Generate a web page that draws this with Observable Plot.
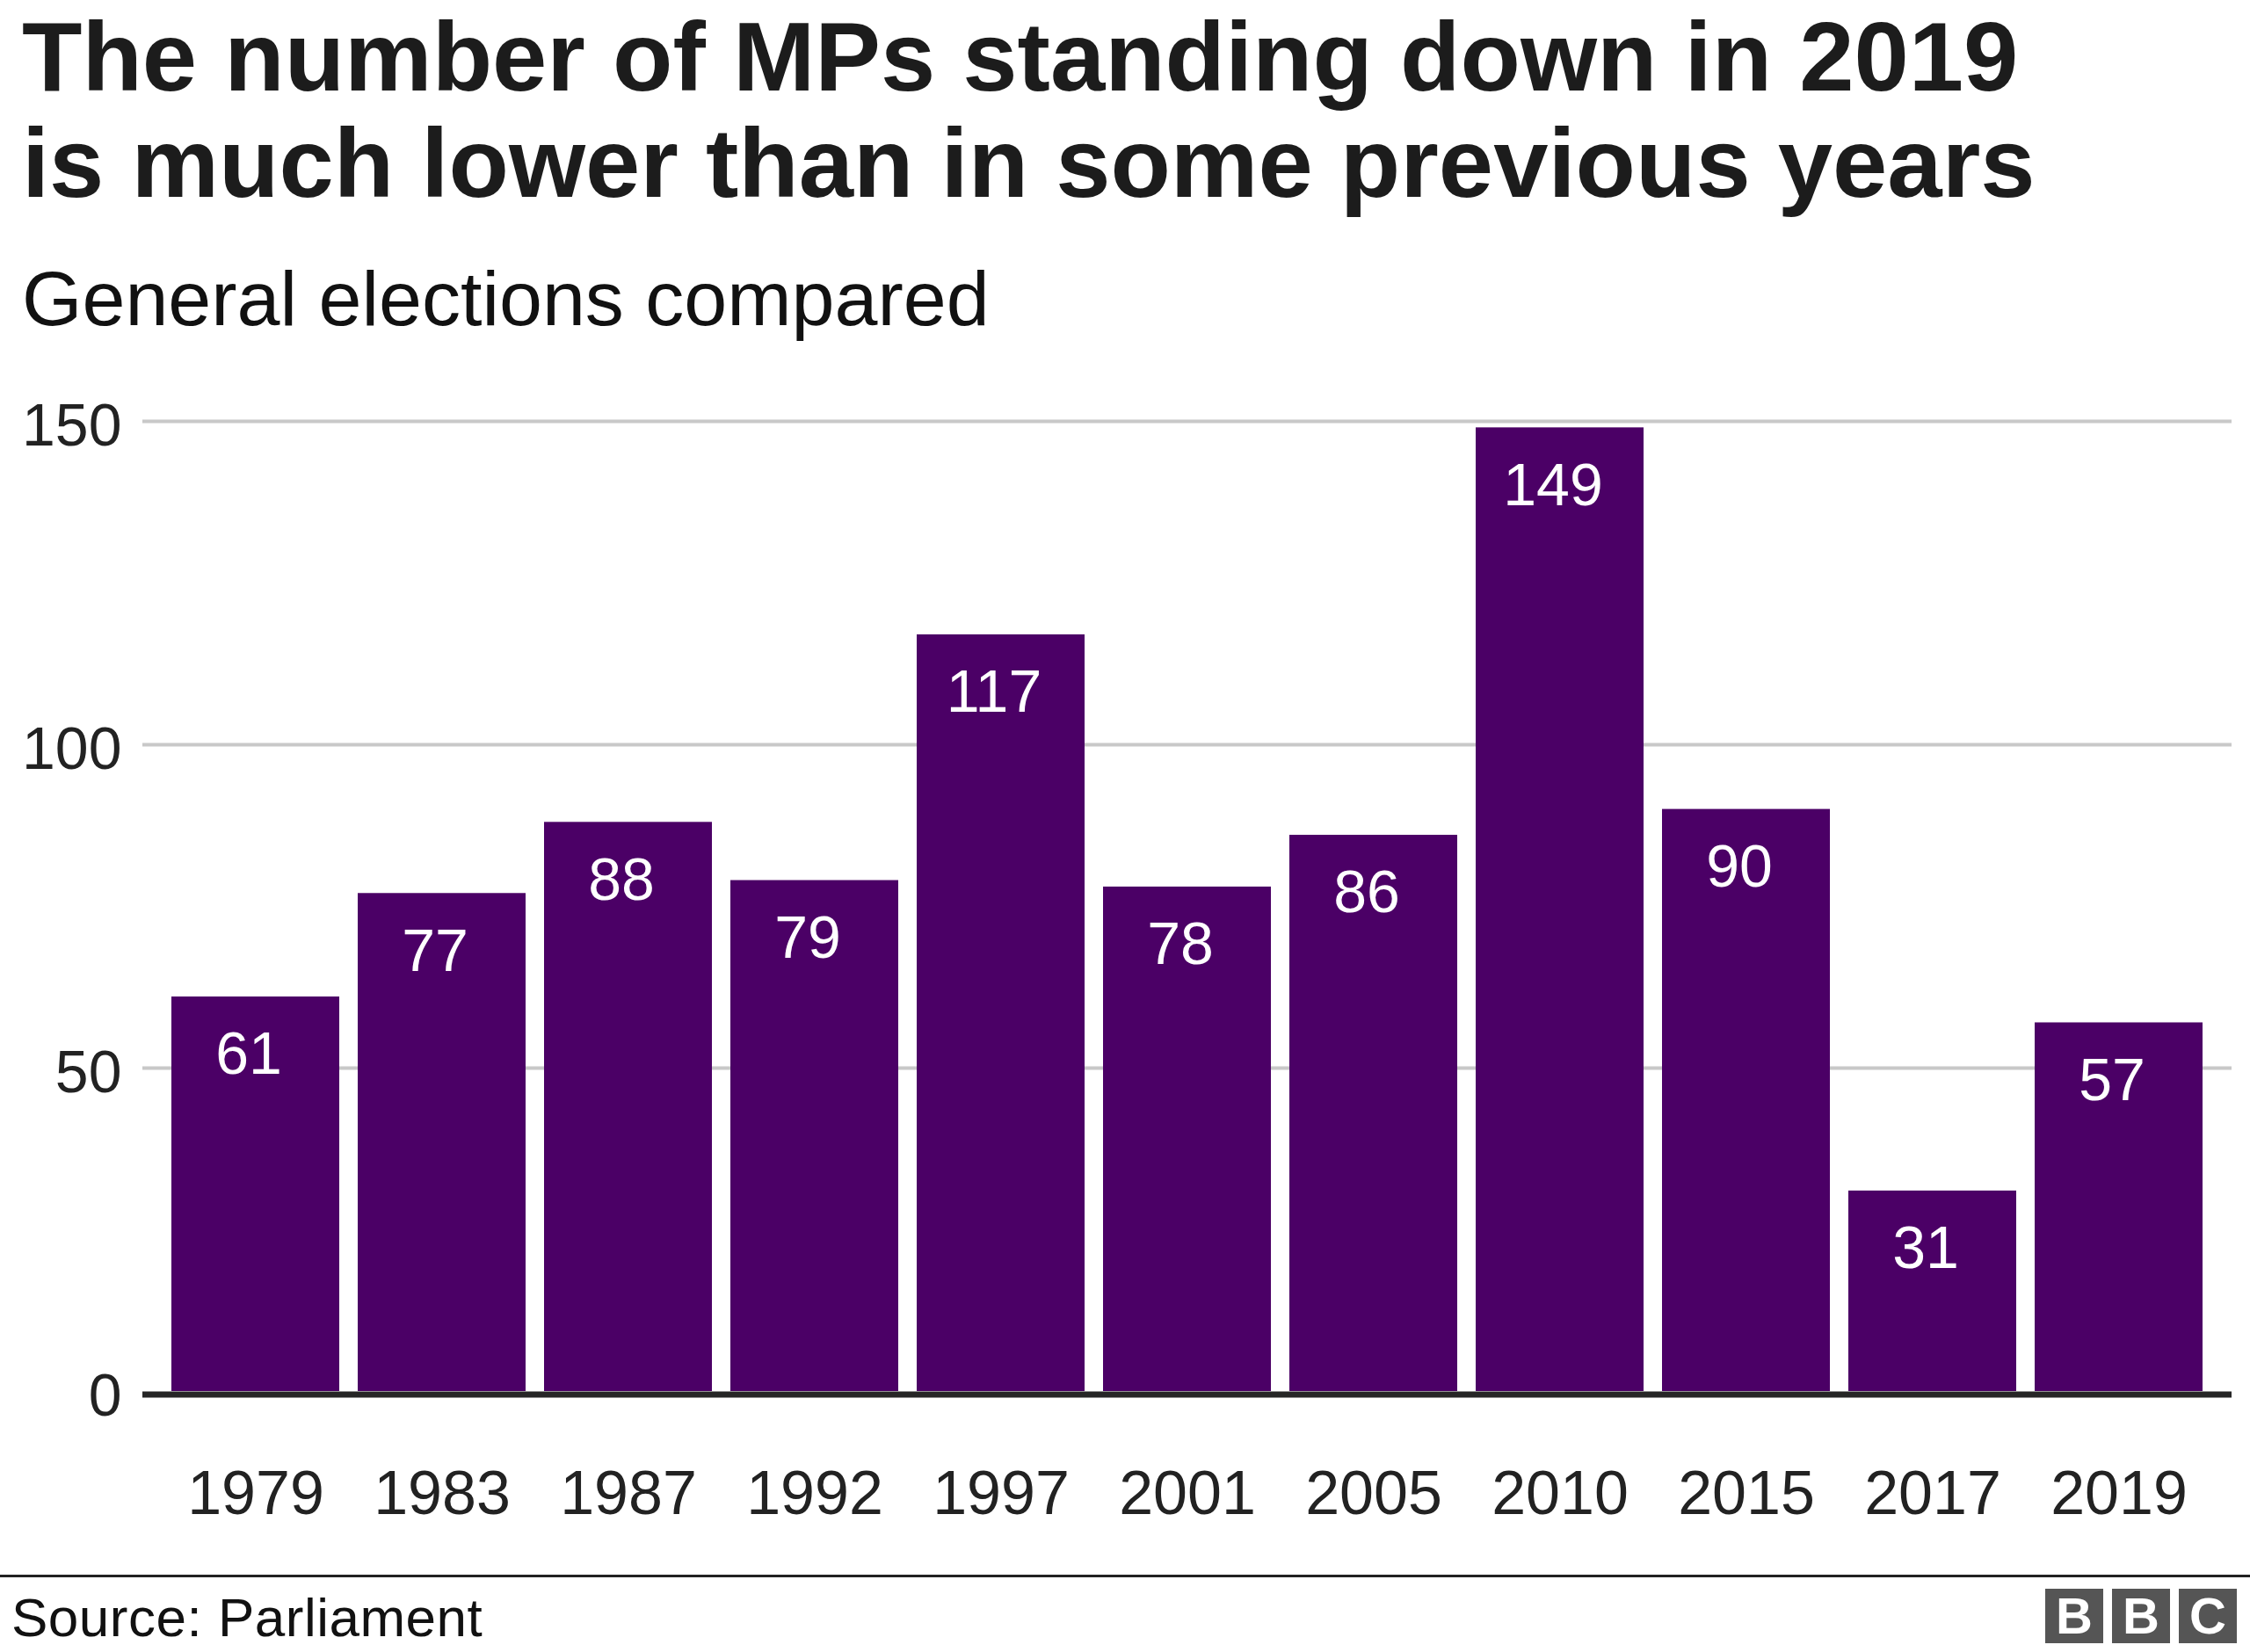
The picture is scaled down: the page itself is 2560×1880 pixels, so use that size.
<!DOCTYPE html>
<html>
<head>
<meta charset="utf-8">
<script src="https://cdn.jsdelivr.net/npm/d3@7"></script>
<script src="https://cdn.jsdelivr.net/npm/@observablehq/plot@0.6"></script>
<style>
  html, body { margin: 0; padding: 0; background: #fff; }
  body { width: 2560px; height: 1880px; overflow: hidden; font-family: "Liberation Sans", Arial, Helvetica, sans-serif; }
  #header { position: relative; height: 420px; }
  #title { position: absolute; left: 25px; top: 4px; font-size: 112px; line-height: 121px; font-weight: bold; color: #1c1c1c; white-space: nowrap; }
  #subtitle { position: absolute; left: 25px; top: 290px; font-size: 88px; line-height: 100px; color: #111; white-space: nowrap; }
  #chart svg { display: block; }
  #footer { position: relative; border-top: 3px solid #222; height: 85px; }
  #source { position: absolute; left: 13px; top: 11px; font-size: 62px; line-height: 70px; letter-spacing: 0.5px; color: #111; white-space: nowrap; }
  #logo { position: absolute; right: 15px; top: 13px; display: flex; gap: 10px; }
  #logo div { width: 66px; height: 62px; background: #555; color: #fff; font-weight: bold; font-size: 58px; line-height: 62px; text-align: center; }
</style>
</head>
<body>
<div id="header">
  <div id="title">The number of MPs standing down in 2019<br>is much lower than in some previous years</div>
  <div id="subtitle">General elections compared</div>
</div>
<div id="chart"></div>
<div id="footer">
  <div id="source">Source: Parliament</div>
  <div id="logo"><div>B</div><div>B</div><div>C</div></div>
</div>
<script>
const years = ["1979", "1983", "1987", "1992", "1997", "2001", "2005", "2010", "2015", "2017", "2019"];
const values = [61, 77, 88, 79, 117, 78, 86, 149, 90, 31, 57];
const yTicks = [0, 50, 100, 150];
const gridTicks = [50, 100, 150];

const data = years.map((year, i) => ({year, value: values[i]}));

const chart = Plot.plot({
  width: 2560,
  height: 1372,
  marginTop: 59,
  marginBottom: 209,
  marginLeft: 162,
  marginRight: 21,
  style: {fontFamily: "'Liberation Sans', Arial, Helvetica, sans-serif", background: "#fff", color: "#222"},
  x: {domain: years, paddingInner: 0.1, paddingOuter: 0.15, label: null},
  y: {domain: [0, 150], label: null},
  marks: [
    Plot.ruleY(gridTicks, {stroke: "#c8c8c8", strokeWidth: 4}),
    Plot.barY(data, {x: "year", y: "value", fill: "#4b0066"}),
    Plot.text(data, {x: "year", y: "value", text: d => String(d.value), fill: "#fff", fontSize: 68, dy: 66, dx: -8, textAnchor: "middle"}),
    Plot.ruleY([0], {stroke: "#262626", strokeWidth: 7, dy: 3.5}),
    Plot.axisX({tickSize: 0, tickPadding: 90, fontSize: 70, label: null}),
    Plot.axisY({ticks: yTicks, tickSize: 0, tickPadding: 24, fontSize: 68, dy: 6, label: null})
  ]
});
document.getElementById("chart").appendChild(chart);
</script>
</body>
</html>
